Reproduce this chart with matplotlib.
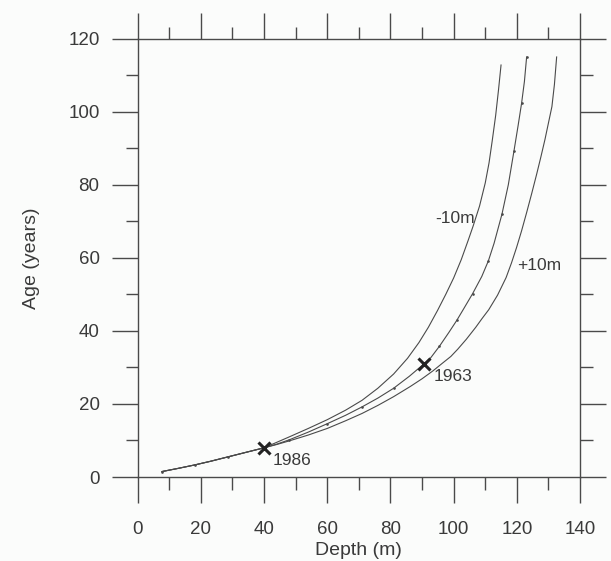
import matplotlib
matplotlib.use('Agg')
import matplotlib.pyplot as plt
from matplotlib.ticker import MultipleLocator

plt.rcParams['font.family'] = ['Liberation Sans', 'DejaVu Sans']

# Common part of the three age-depth curves (down to the 1986 marker)
depth_shared = [7.7, 13, 18, 23, 28.5, 34, 40]
age_shared = [1.5, 2.4, 3.3, 4.3, 5.5, 6.7, 8.0]

# -10m curve
depth_m10 = [44, 48, 54, 60, 65.8, 71, 76, 81, 85.4, 89, 92, 94.9, 97.5, 100, 102.4,
             104.6, 106.2, 108.2, 110, 111.2, 112.2, 113.3, 114.2, 115.0]
age_m10 = [9.5, 11.0, 13.3, 15.7, 18.3, 21.0, 24.3, 28.2, 32.5, 36.8, 41.0, 45.6, 50.0, 54.5, 59.5,
           64.8, 68.8, 74.2, 80.5, 86.0, 92.0, 99.0, 106.0, 112.8]

# central curve
depth_mid = [44, 48, 54, 60, 65.8, 71, 76, 81, 86, 90.5, 92.7, 95.5, 98.5, 101, 103, 106,
             108.9, 111, 112.8, 115.3, 117.3, 119.1, 120.4, 121.5, 122.4, 123.1]
age_mid = [9.0, 10.2, 12.3, 14.6, 16.9, 19.2, 21.6, 24.3, 27.6, 30.9, 32.6, 35.8, 39.6, 42.9, 45.8, 50.2,
           54.9, 59.2, 64.0, 72.0, 80.0, 89.3, 96.2, 102.3, 108.3, 115.0]

# +10m curve
depth_p10 = [44, 48, 54, 60, 65.8, 71, 76, 81, 86.3, 90, 93.5, 96.5, 99.1, 101.3, 104, 107,
             109, 111.1, 113.9, 116.6, 118.3, 119.9, 121.5, 123.1, 124.7, 126.3, 127.6, 128.9,
             129.9, 131.1, 131.9, 132.6]
age_p10 = [8.9, 9.9, 11.5, 13.3, 15.4, 17.4, 19.6, 22.0, 24.8, 26.9, 29.1, 31.2, 33.0, 35.0, 37.7, 41.0,
           43.4, 45.8, 49.8, 54.6, 58.6, 62.8, 67.4, 72.4, 77.6, 83.0, 87.6, 92.4,
           96.5, 101.4, 107.5, 115.0]

# dated horizons
marker_depth = [40, 90.5]
marker_age = [8.0, 30.9]
marker_labels = ['1986', '1963']

text_col = '#3a3a3a'
line_col = '#4a4a4a'

fig = plt.figure(figsize=(6.11, 5.61), dpi=100)
fig.patch.set_facecolor('#fbfcfb')
ax = fig.add_axes([0.2254, 0.1497, 0.7239, 0.7813])
ax.set_facecolor('#fbfcfb')

ax.plot(depth_shared + depth_m10, age_shared + age_m10, color=line_col, lw=0.8)
ax.plot(depth_shared + depth_mid, age_shared + age_mid, color=line_col, lw=0.8,
        marker='.', markersize=1.8, markevery=2)
ax.plot(depth_shared + depth_p10, age_shared + age_p10, color=line_col, lw=0.8)

ax.plot(marker_depth, marker_age, 'x', color='#222222', markersize=8, mew=2.2)
ax.annotate(marker_labels[0], xy=(marker_depth[0], marker_age[0]), xytext=(6, -9),
            textcoords='offset points', ha='left', va='center', fontsize=12.5, color=text_col)
ax.annotate(marker_labels[1], xy=(marker_depth[1], marker_age[1]), xytext=(7, -9),
            textcoords='offset points', ha='left', va='center', fontsize=12.5, color=text_col)
ax.text(100.3, 70.8, '-10m', ha='center', va='center', fontsize=12.5, color=text_col)
ax.text(127.2, 57.8, '+10m', ha='center', va='center', fontsize=12.5, color=text_col)

ax.set_xlim(0, 140)
ax.set_ylim(0, 120)
ax.xaxis.set_major_locator(MultipleLocator(20))
ax.xaxis.set_minor_locator(MultipleLocator(10))
ax.yaxis.set_major_locator(MultipleLocator(20))
ax.yaxis.set_minor_locator(MultipleLocator(10))

ax.tick_params(which='both', direction='out', top=True, right=True, colors=line_col, width=1.0)
ax.tick_params(which='major', length=18.5)
ax.tick_params(which='minor', length=9)
ax.tick_params(axis='x', which='major', pad=13, labelsize=13.5, labelcolor=text_col)
ax.tick_params(axis='y', which='major', pad=9, labelsize=13.5, labelcolor=text_col)
for s in ax.spines.values():
    s.set_color(line_col)
    s.set_linewidth(1.0)

ax.set_xlabel('Depth (m)', fontsize=14, color=text_col, labelpad=3)
ax.set_ylabel('Age (years)', fontsize=14, color=text_col, labelpad=20)

fig.savefig('out.png', dpi=100, facecolor=fig.get_facecolor())
